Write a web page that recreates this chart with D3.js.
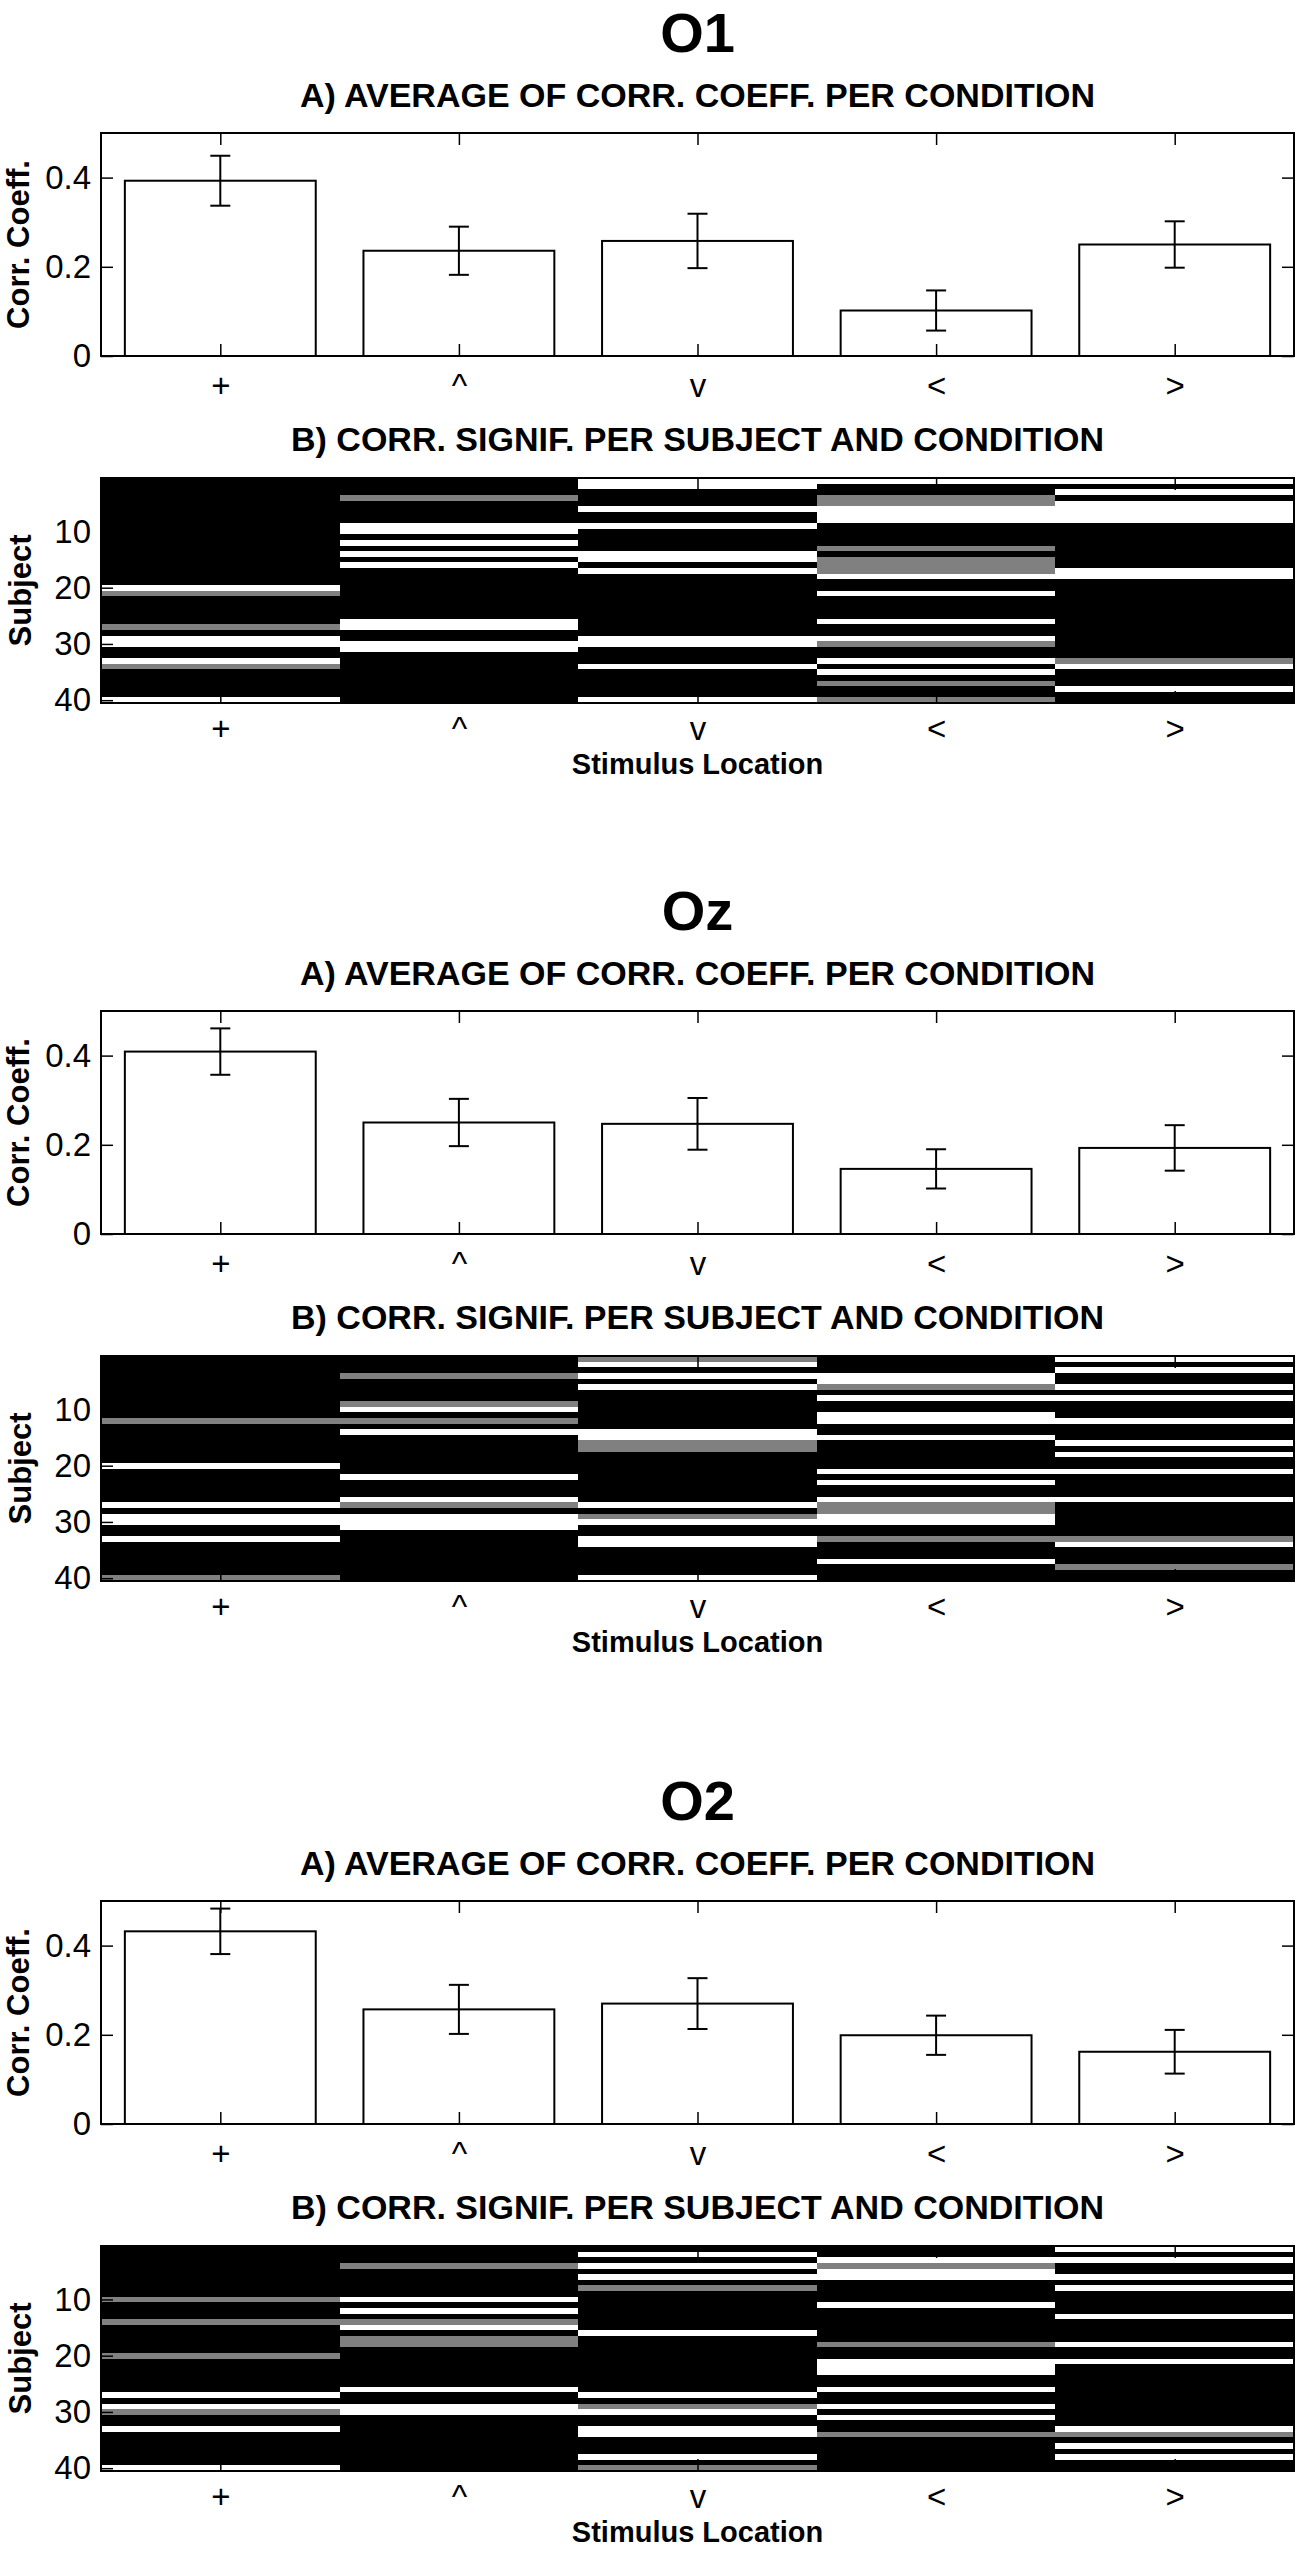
<!DOCTYPE html>
<html>
<head>
<meta charset="utf-8">
<script src="https://cdn.jsdelivr.net/npm/d3@7"></script>
<style>
  body { margin: 0; background: #fff; }
</style>
</head>
<body>
<div id="chart"></div>
<script>

// stimulus locations (x categories)
const conditions = ['+', '^', 'v', '<', '>']
const yTicks = [0, 0.2, 0.4]
const subjectTicks = [10, 20, 30, 40]
const nSubjects = 40

// A) mean corr. coeff. and error per condition
const o1Mean = [0.393, 0.236, 0.258, 0.102, 0.250]
const o1Err = [0.056, 0.054, 0.061, 0.045, 0.052]
const ozMean = [0.409, 0.250, 0.247, 0.146, 0.193]
const ozErr = [0.052, 0.053, 0.058, 0.044, 0.051]
const o2Mean = [0.432, 0.257, 0.270, 0.199, 0.162]
const o2Err = [0.051, 0.055, 0.057, 0.044, 0.049]

// B) significance per subject: rows shown white / gray (all others black), one list per condition
const o1White = [[20, 29, 30, 33, 40], [9, 10, 12, 14, 16, 26, 27, 30, 31], [1, 2, 6, 9, 14, 15, 17, 29, 30, 34, 40], [1, 6, 7, 8, 18, 21, 26, 29, 33, 35], [1, 3, 5, 6, 7, 8, 17, 18, 34, 38]]
const o1Gray = [[21, 27, 34], [4], [], [4, 5, 13, 15, 16, 17, 30, 37, 40], [33]]
const ozWhite = [[20, 27, 29, 30, 33], [10, 14, 22, 26, 29, 30, 31], [2, 4, 6, 14, 15, 27, 30, 33, 34, 40], [4, 5, 8, 11, 12, 15, 21, 23, 26, 29, 30, 37], [1, 3, 6, 8, 12, 16, 18, 21, 26, 34]]
const ozGray = [[12, 40], [4, 9, 12, 27], [1, 16, 17, 29], [6, 27, 28, 33], [33, 38]]
const o2White = [[27, 29, 33, 40], [10, 12, 15, 26, 29, 30], [2, 4, 6, 16, 27, 30, 33, 34, 38], [3, 5, 6, 11, 21, 22, 23, 26, 29, 31], [1, 3, 6, 8, 13, 18, 21, 33, 36, 38]]
const o2Gray = [[10, 14, 20, 30], [4, 14, 17, 18], [8, 29, 40], [4, 18, 34], [34]]

const panels = [
    { name: 'O1', mean: o1Mean, err: o1Err, white: o1White, gray: o1Gray },
    { name: 'Oz', mean: ozMean, err: ozErr, white: ozWhite, gray: ozGray },
    { name: 'O2', mean: o2Mean, err: o2Err, white: o2White, gray: o2Gray }
]

const fullWidth = 1300
const fullHeight = 2549
const font = '"Liberation Sans", Arial, Helvetica, sans-serif'

const left = 101, right = 1294
const panelTops = [133, 1011, 1901]
const barH = 223, heatOff = 345, heatH = 225
const midX = (left + right) / 2

const svg = d3.select('#chart')
    .append('svg')
    .attr('width', fullWidth)
    .attr('height', fullHeight)
    .style('display', 'block')
    .attr('font-family', font)

const x = d3.scaleLinear().domain([0.5, 5.5]).range([left, right])
const color = d3.scaleOrdinal().domain(['b', 'g', 'w']).range(['#000000', '#808080', '#ffffff'])

function styleAxis(g) {
    g.select('.domain').remove()
    g.attr('font-size', 33).attr('font-family', font)
    g.selectAll('.tick line').attr('stroke', '#000').attr('stroke-width', 1.5)
    g.selectAll('.tick text').attr('fill', '#000')
}

// box with inward ticks on all four sides, labels on left and bottom
function drawAxes(g, y, top, h, yVals, yFmt, pad) {
    g.append('g')
        .attr('transform', `translate(${left},0)`)
        .call(d3.axisLeft(y).tickValues(yVals).tickFormat(yFmt).tickSize(-12).tickPadding(10))
        .call(styleAxis)
    g.append('g')
        .attr('transform', `translate(${right},0)`)
        .call(d3.axisRight(y).tickValues(yVals).tickFormat('').tickSize(-12))
        .call(styleAxis)
    g.append('g')
        .attr('transform', `translate(0,${top + h})`)
        .call(d3.axisBottom(x).tickValues([1, 2, 3, 4, 5]).tickFormat(d => conditions[d - 1]).tickSize(-12).tickPadding(pad))
        .call(styleAxis)
    g.append('g')
        .attr('transform', `translate(0,${top})`)
        .call(d3.axisTop(x).tickValues([1, 2, 3, 4, 5]).tickFormat('').tickSize(-12))
        .call(styleAxis)
    g.append('rect')
        .attr('x', left)
        .attr('y', top)
        .attr('width', right - left)
        .attr('height', h)
        .attr('fill', 'none')
        .attr('stroke', '#000')
        .attr('stroke-width', 2)
}

panels.forEach((p, i) => {

    let T = panelTops[i]
    let g = svg.append('g').attr('class', 'panel')

    g.append('text')
        .attr('x', midX)
        .attr('y', T - 81)
        .attr('text-anchor', 'middle')
        .attr('font-size', 56)
        .attr('font-weight', 'bold')
        .text(p.name)

    g.append('text')
        .attr('x', midX)
        .attr('y', T - 26)
        .attr('text-anchor', 'middle')
        .attr('font-size', 34)
        .attr('font-weight', 'bold')
        .text('A) AVERAGE OF CORR. COEFF. PER CONDITION')

    // ---- bar chart
    let y = d3.scaleLinear().domain([0, 0.5]).range([T + barH, T])

    g.append('g')
        .selectAll('rect')
        .data(p.mean)
        .enter()
        .append('rect')
        .attr('x', (d, j) => x(j + 1 - 0.4))
        .attr('width', x(1.4) - x(0.6))
        .attr('y', d => y(d))
        .attr('height', d => y(0) - y(d))
        .attr('fill', '#fff')
        .attr('stroke', '#000')
        .attr('stroke-width', 2)

    let errs = g.append('g')
        .selectAll('g')
        .data(p.mean.map((m, j) => ({ j: j, m: m, e: p.err[j] })))
        .enter()
        .append('g')
        .attr('stroke', '#000')
        .attr('stroke-width', 2)

    errs.append('line')
        .attr('x1', d => x(d.j + 1)).attr('x2', d => x(d.j + 1))
        .attr('y1', d => y(d.m - d.e)).attr('y2', d => y(d.m + d.e))
    errs.append('line')
        .attr('x1', d => x(d.j + 1) - 10).attr('x2', d => x(d.j + 1) + 10)
        .attr('y1', d => y(d.m + d.e)).attr('y2', d => y(d.m + d.e))
    errs.append('line')
        .attr('x1', d => x(d.j + 1) - 10).attr('x2', d => x(d.j + 1) + 10)
        .attr('y1', d => y(d.m - d.e)).attr('y2', d => y(d.m - d.e))

    drawAxes(g, y, T, barH, yTicks, d => d === 0 ? '0' : String(d), 18)

    g.append('text')
        .attr('transform', `translate(18,${T + barH / 2}) rotate(-90)`)
        .attr('text-anchor', 'middle')
        .attr('dy', '0.35em')
        .attr('font-size', 31)
        .attr('font-weight', 'bold')
        .text('Corr. Coeff.')

    // ---- significance map
    let HT = T + heatOff

    g.append('text')
        .attr('x', midX)
        .attr('y', T + 318)
        .attr('text-anchor', 'middle')
        .attr('font-size', 34)
        .attr('font-weight', 'bold')
        .text('B) CORR. SIGNIF. PER SUBJECT AND CONDITION')

    let ys = d3.scaleLinear().domain([0.5, nSubjects + 0.5]).range([HT, HT + heatH])

    let cells = []
    conditions.forEach((c, j) => {
        d3.range(1, nSubjects + 1).forEach(r => {
            let v = p.white[j].includes(r) ? 'w' : (p.gray[j].includes(r) ? 'g' : 'b')
            cells.push({ col: j + 1, row: r, v: v })
        })
    })

    g.append('g')
        .attr('shape-rendering', 'crispEdges')
        .selectAll('rect')
        .data(cells)
        .enter()
        .append('rect')
        .attr('x', d => x(d.col - 0.5))
        .attr('width', d => x(d.col + 0.5) - x(d.col - 0.5))
        .attr('y', d => ys(d.row - 0.5))
        .attr('height', d => ys(d.row + 0.5) - ys(d.row - 0.5))
        .attr('fill', d => color(d.v))

    drawAxes(g, ys, HT, heatH, subjectTicks, d => d, 14)

    g.append('text')
        .attr('transform', `translate(20,${HT + heatH / 2}) rotate(-90)`)
        .attr('text-anchor', 'middle')
        .attr('dy', '0.35em')
        .attr('font-size', 31)
        .attr('font-weight', 'bold')
        .text('Subject')

    g.append('text')
        .attr('x', midX)
        .attr('y', T + 641)
        .attr('text-anchor', 'middle')
        .attr('font-size', 29)
        .attr('font-weight', 'bold')
        .text('Stimulus Location')

})

</script>
</body>
</html>
